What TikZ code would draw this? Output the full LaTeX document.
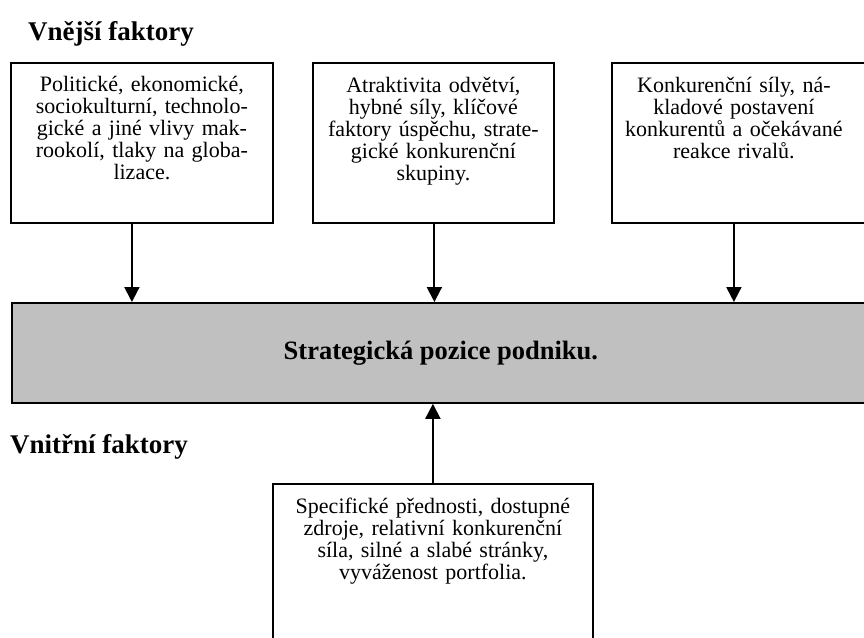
\documentclass[tikz,border=0pt]{standalone}
\usepackage{fontspec}
\setmainfont{Liberation Serif}
\usetikzlibrary{positioning,calc,arrows.meta}
\definecolor{posgray}{HTML}{C0C0C0}
\tikzset{
  >={Triangle[width=15pt,length=15pt]},
  factor box/.style={
    draw,
    line width=1.8pt,
    inner sep=0pt,
    anchor=north west,
    minimum height=160pt
  },
  factor text/.style={
    align=center,
    inner sep=0pt,
    text width=#1,
    font=\fontsize{22}{22}\selectfont
  },
  heading/.style={
    font=\fontsize{27}{30}\selectfont\bfseries,
    inner sep=0pt,
    anchor=base west
  },
  flow/.style={->,line width=2pt}
}
\begin{document}
\begin{tikzpicture}[x=1pt,y=-1pt]
\useasboundingbox (0,0) rectangle (864,637);
% External factors
\node[heading] (outer) at (28,40) {Vnější faktory};
\node[factor box,minimum width=262pt] (macro) at (10,62) {};
\node[factor text=250pt] (macro text) [below=14.5pt of macro.north]
  {Politické, ekonomické,\\ sociokulturní, technolo-\\ gické a jiné vlivy mak-\\ rookolí, tlaky na globa-\\ lizace.};
\node[factor box,minimum width=241pt] (branch) at (312,62) {};
\node[factor text=236pt] (branch text) [below=14.5pt of branch.north]
  {Atraktivita odvětví,\\ hybné síly, klíčové\\ faktory úspěchu, strate-\\ gické konkurenční\\ skupiny.};
\node[factor box,minimum width=256pt] (rivals) at (611,62) {};
\node[factor text=240pt,xshift=-6pt] (rivals text) [below=14.5pt of rivals.north]
  {Konkurenční síly, ná-\\ kladové postavení\\ konkurentů a očekávané\\ reakce rivalů.};
% Strategic position
\node[draw,fill=posgray,line width=1.8pt,anchor=north west,
      minimum width=858pt,minimum height=100pt,
      font=\fontsize{26.5}{30}\selectfont\bfseries] (position) at (11,302)
  {Strategická pozice podniku.};
\draw[flow] ([xshift=-10pt]macro.south) -- ([xshift=-10pt]macro.south |- position.north);
\draw[flow] ([xshift=1pt]branch.south) -- ([xshift=1pt]branch.south |- position.north);
\draw[flow] ([xshift=-6pt]rivals.south) -- ([xshift=-6pt]rivals.south |- position.north);
% Internal factors
\node[heading] (inner) at (10,453) {Vnitřní faktory};
\node[factor box,minimum width=320pt,minimum height=200pt] (sources) at (272,483) {};
\node[factor text=310pt] (sources text) [below=14.5pt of sources.north]
  {Specifické přednosti, dostupné\\ zdroje, relativní konkurenční\\ síla, silné a slabé stránky,\\ vyváženost portfolia.};
\draw[flow] (sources.north) -- (sources.north |- position.south);
\end{tikzpicture}
\end{document}
